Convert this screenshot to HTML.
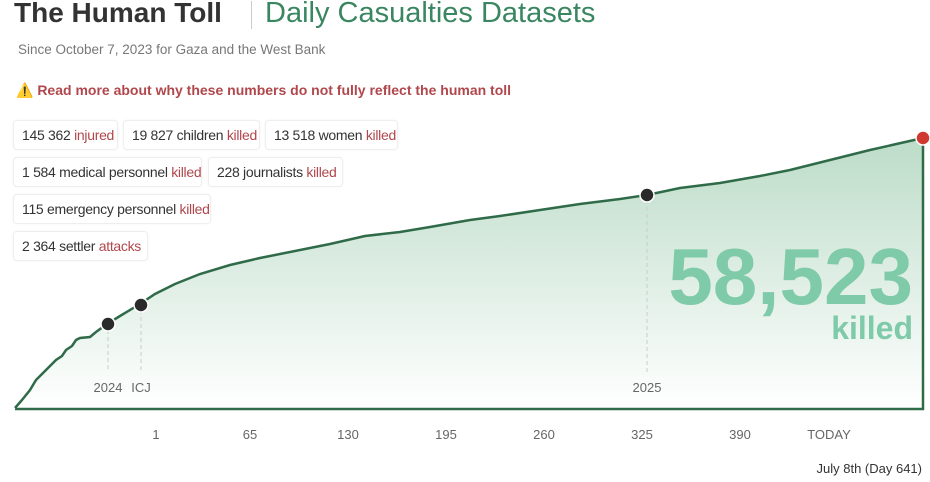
<!DOCTYPE html>
<html><head><meta charset="utf-8"><style>
body{margin:0;width:930px;height:482px;background:#fff;font-family:"Liberation Sans",sans-serif;position:relative;overflow:hidden}
.a{position:absolute;white-space:nowrap}
.box{position:absolute;height:30px;border:1px solid #eee;border-radius:4px;box-sizing:border-box;font-size:14px;letter-spacing:-0.3px;color:#333;line-height:28px;padding-left:8px;background:#fff;white-space:nowrap;overflow:hidden;box-shadow:0 0 2px rgba(0,0,0,.05)}
.box span{color:#b0474c}
.t{font-size:13px;color:#666;fill:#666}
</style></head><body>
<svg class="a" style="left:0;top:0" width="930" height="482">
<defs><linearGradient id="g" x1="0" y1="0" x2="0" y2="1"><stop offset="0" stop-color="#bcdcc8"/><stop offset="1" stop-color="#ffffff"/></linearGradient></defs>
<path d="M15,408 L22,400 L30,390 L36,380 L42,374 L50,366 L56,360 L62,356 L66,350 L72,346 L76,340 L80,338 L90,337 L96,332 L107,324 L120,316 L140,304 L155,294 L175,284 L200,274 L230,265 L260,258 L300,250 L330,244 L365,236 L400,232 L430,227 L470,220 L500,216 L540,210 L580,204 L620,199 L647,195 L680,188 L720,183 L760,176 L790,170 L830,160 L870,150 L923,138 L923,408 Z" fill="url(#g)" stroke="none"/>
<path d="M15,408 L22,400 L30,390 L36,380 L42,374 L50,366 L56,360 L62,356 L66,350 L72,346 L76,340 L80,338 L90,337 L96,332 L107,324 L120,316 L140,304 L155,294 L175,284 L200,274 L230,265 L260,258 L300,250 L330,244 L365,236 L400,232 L430,227 L470,220 L500,216 L540,210 L580,204 L620,199 L647,195 L680,188 L720,183 L760,176 L790,170 L830,160 L870,150 L923,138 L923,409 L15,409" fill="none" stroke="#2f6b48" stroke-width="2.5"/>
<g stroke="#ccc" stroke-dasharray="4,3"><line x1="108" y1="330" x2="108" y2="372"/><line x1="141" y1="310" x2="141" y2="372"/><line x1="647" y1="200" x2="647" y2="372"/></g>
<g fill="#2a2a2a" stroke="#fff" stroke-width="1.5"><circle cx="108" cy="324" r="7"/><circle cx="141" cy="305" r="7"/><circle cx="647" cy="195" r="7"/></g>
<circle cx="923" cy="138" r="7" fill="#d0392f" stroke="#fff" stroke-width="1.5"/>
<g class="t" text-anchor="middle"><text x="108" y="392">2024</text><text x="141" y="392">ICJ</text><text x="647" y="392">2025</text>
<text x="156" y="439">1</text><text x="250" y="439">65</text><text x="348" y="439">130</text><text x="446" y="439">195</text><text x="544" y="439">260</text><text x="642" y="439">325</text><text x="740" y="439">390</text><text x="829" y="439">TODAY</text></g>
<text x="922" y="473" text-anchor="end" font-size="13" fill="#333">July 8th (Day 641)</text>
<text x="913" y="304" text-anchor="end" font-size="80" font-weight="bold" fill="#7fcaa8">58,523</text>
<text x="913" y="339" text-anchor="end" font-size="32" font-weight="bold" fill="#7fcaa8">killed</text>
</svg>
<div class="a" style="left:14px;top:-3px;font-size:28px;font-weight:bold;color:#333">The Human Toll</div>
<div class="a" style="left:251px;top:1px;width:1px;height:28px;background:#ccc"></div>
<div class="a" style="left:265px;top:-3px;font-size:29px;color:#3a8660">Daily Casualties Datasets</div>
<div class="a" style="left:18px;top:42px;font-size:13.5px;color:#777">Since October 7, 2023 for Gaza and the West Bank</div>
<div class="a" style="left:16px;top:82px;font-size:14px;font-weight:bold;color:#b0474c">⚠️ Read more about why these numbers do not fully reflect the human toll</div>
<div class="box" style="left:13px;top:120px;width:105px">145 362 <span>injured</span></div>
<div class="box" style="left:123px;top:120px;width:137px">19 827 children <span>killed</span></div>
<div class="box" style="left:265px;top:120px;width:133px">13 518 women <span>killed</span></div>
<div class="box" style="left:13px;top:157px;width:189px">1 584 medical personnel <span>killed</span></div>
<div class="box" style="left:208px;top:157px;width:135px">228 journalists <span>killed</span></div>
<div class="box" style="left:13px;top:194px;width:198px">115 emergency personnel <span>killed</span></div>
<div class="box" style="left:13px;top:231px;width:135px">2 364 settler <span>attacks</span></div>
</body></html>
